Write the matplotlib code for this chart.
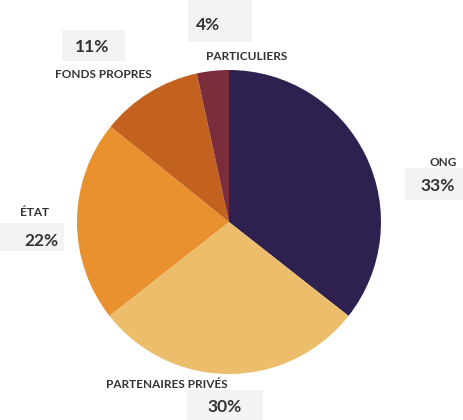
import matplotlib
matplotlib.use("Agg")
import matplotlib.pyplot as plt
from matplotlib.patches import Rectangle

labels = ["ONG", "PARTENAIRES PRIVÉS", "ÉTAT", "FONDS PROPRES", "PARTICULIERS"]
# printed percentages
pct_labels = [33, 30, 22, 11, 4]
# slice sizes as drawn in the picture (they don't quite match the printed %)
slice_sizes = [35.6, 28.8, 21.4, 10.8, 3.4]
colors = ["#2e2150", "#ecbd6a", "#e8912e", "#c3621f", "#7b2d3b"]

# pixel positions (x, y from top) of name / percent box / percent text
name_pos = [(443, 163), (167, 385), (35, 213), (103, 75), (247, 57)]
box_pos = [(405, 168, 59, 32), (187, 390, 76, 30), (0, 223, 64, 28),
           (62, 30, 63, 31), (188, 0, 64, 42)]
pct_pos = [(438, 186), (225, 407), (41, 241), (92, 47), (208, 25)]

W, H = 464, 420
fig = plt.figure(figsize=(W / 100, H / 100), dpi=100)
plt.rcParams["font.family"] = ["Lato", "DejaVu Sans"]

cx, cy, r = 229, 222, 152
ax = fig.add_axes([(cx - r) / W, (H - cy - r) / H, 2 * r / W, 2 * r / H])
ax.pie(slice_sizes, colors=colors, startangle=90, counterclock=False,
       wedgeprops=dict(linewidth=0))
ax.set_xlim(-1, 1)
ax.set_ylim(-1, 1)
ax.set_aspect("equal")
ax.axis("off")

for (bx, by, bw, bh) in box_pos:
    fig.patches.append(Rectangle((bx / W, (H - by - bh) / H), bw / W, bh / H,
                                 transform=fig.transFigure, facecolor="#f3f3f3",
                                 edgecolor="none", zorder=0))

for name, pct, (nx, ny), (px, py) in zip(labels, pct_labels, name_pos, pct_pos):
    fig.text(nx / W, 1 - ny / H, name, ha="center", va="center",
             fontsize=8.5, fontweight="bold", color="#333333")
    fig.text(px / W, 1 - py / H, f"{pct}%", ha="center", va="center",
             fontsize=12.5, fontweight="bold", color="#333333")

fig.savefig("out.png", dpi=100)
